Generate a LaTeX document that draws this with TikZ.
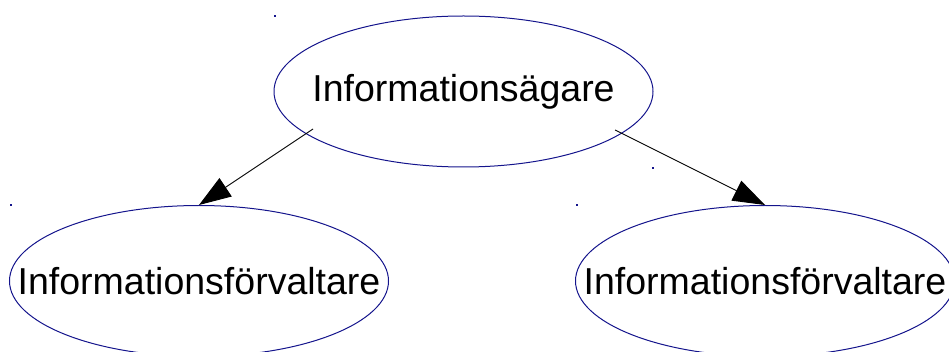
\documentclass[tikz,border=0pt]{standalone}
\usepackage{fontspec}
\setmainfont{Liberation Sans}
\usetikzlibrary{shapes.geometric,arrows.meta}
\definecolor{edgeblue}{RGB}{20,20,140}
\newcommand{\ztext}[1]{\makebox[0pt][c]{#1}}
\tikzset{
  ell/.style={ellipse, draw=edgeblue, line width=1pt, minimum width=379pt, minimum height=151pt, inner sep=0pt,
    font=\fontsize{37.5}{45}\selectfont},
  conn/.style={draw=black, line width=0.9pt, -{Triangle[length=32pt,width=22pt]}},
  speck/.style={fill=edgeblue, inner sep=0pt, minimum size=1.2pt}
}
\begin{document}
\begin{tikzpicture}[x=1pt,y=-1pt]
\useasboundingbox (0,0) rectangle (949,352);
\node[ell] (top) at (463.5,91.5) {\ztext{Informationsägare}};
\node[ell] (left) at (199,281) {\ztext{Informationsförvaltare}};
\node[ell] (right) at (765,281) {\ztext{Informationsförvaltare}};
\coordinate (s1) at (313,129);
\coordinate (s2) at (615,130);
\draw[conn] (s1) -- (left.north);
\draw[conn] (s2) -- (right.north);
\node[speck] (d1) at (275,16) {};
\node[speck] (d2) at (11,205) {};
\node[speck] (d3) at (577,205) {};
\node[speck] (d4) at (653,168) {};
\end{tikzpicture}
\end{document}
